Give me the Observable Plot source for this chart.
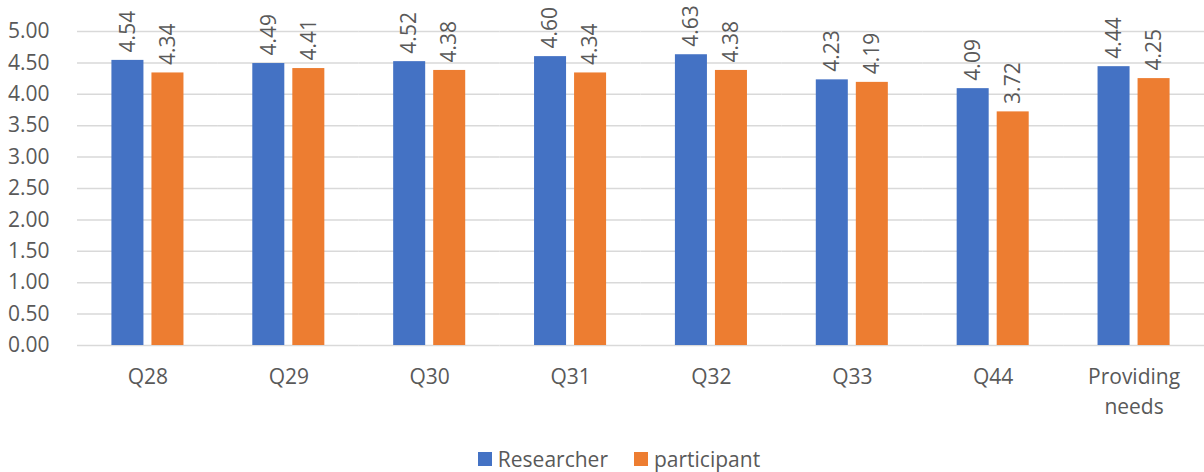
<!DOCTYPE html>
<html>
<head>
<meta charset="utf-8">
<script src="https://cdn.jsdelivr.net/npm/d3@7"></script>
<script src="https://cdn.jsdelivr.net/npm/@observablehq/plot@0.6"></script>
<style>
  body { margin: 0; background: #fff; font-family: "Open Sans", sans-serif; }
  #legend { display: flex; justify-content: center; align-items: center; height: 32px; margin-top: 3px; padding-left: 34px; color: #595959; font-size: 21px; }
  .item { display: flex; align-items: center; margin: 0 13px; }
  .sw { width: 14px; height: 14px; margin-right: 6px; }
</style>
</head>
<body>
<div id="chart"></div>
<div id="legend"></div>
<script>
const categories = ["Q28", "Q29", "Q30", "Q31", "Q32", "Q33", "Q44", "Providing needs"];
const series = ["Researcher", "participant"];
const researcher = [4.54, 4.49, 4.52, 4.60, 4.63, 4.23, 4.09, 4.44];
const participant = [4.34, 4.41, 4.38, 4.34, 4.38, 4.19, 3.72, 4.25];
const colors = ["#4472C4", "#ED7D31"];
const yTicks = [0, 0.5, 1, 1.5, 2, 2.5, 3, 3.5, 4, 4.5, 5];

const values = {Researcher: researcher, participant: participant};
const data = categories.flatMap((c, i) => series.map(s => ({cat: c, series: s, value: values[s][i]})));

const textColor = "#595959";
const fs = 21;
const chart = Plot.plot({
  width: 1204,
  height: 440,
  marginLeft: 77,
  marginRight: 0,
  marginTop: 31,
  marginBottom: 95,
  style: {fontFamily: "'Open Sans', sans-serif", fontSize: fs + "px", color: textColor, background: "white"},
  fx: {domain: categories, padding: 0, round: false, label: null, axis: null},
  x: {domain: series, paddingInner: 0.2, paddingOuter: 0.86, round: false, axis: null},
  y: {domain: [0, 5], axis: null},
  color: {domain: series, range: colors},
  marks: [
    Plot.ruleY(yTicks, {stroke: "#d9d9d9", strokeWidth: 1.5}),
    Plot.barY(data, {fx: "cat", x: "series", y: "value", fill: "series"}),
    Plot.text(data, {fx: "cat", x: "series", y: "value", text: d => d.value.toFixed(2), rotate: -90, textAnchor: "start", dy: -8, fill: textColor, fontSize: fs}),
    Plot.axisY({ticks: yTicks, tickFormat: d => d.toFixed(2), tickSize: 0, tickPadding: 28, label: null, fontSize: fs, fill: textColor}),
    Plot.axisFx({anchor: "bottom", tickSize: 0, tickPadding: 18, label: null, lineHeight: 1.4, tickFormat: d => d.replace(" ", "\n"), fontSize: fs, fill: textColor})
  ]
});
document.getElementById("chart").appendChild(chart);

const legend = document.getElementById("legend");
series.forEach((s, i) => {
  const item = document.createElement("div");
  item.className = "item";
  const sw = document.createElement("span");
  sw.className = "sw";
  sw.style.background = colors[i];
  const label = document.createElement("span");
  label.textContent = s;
  item.appendChild(sw);
  item.appendChild(label);
  legend.appendChild(item);
});
</script>
</body>
</html>
